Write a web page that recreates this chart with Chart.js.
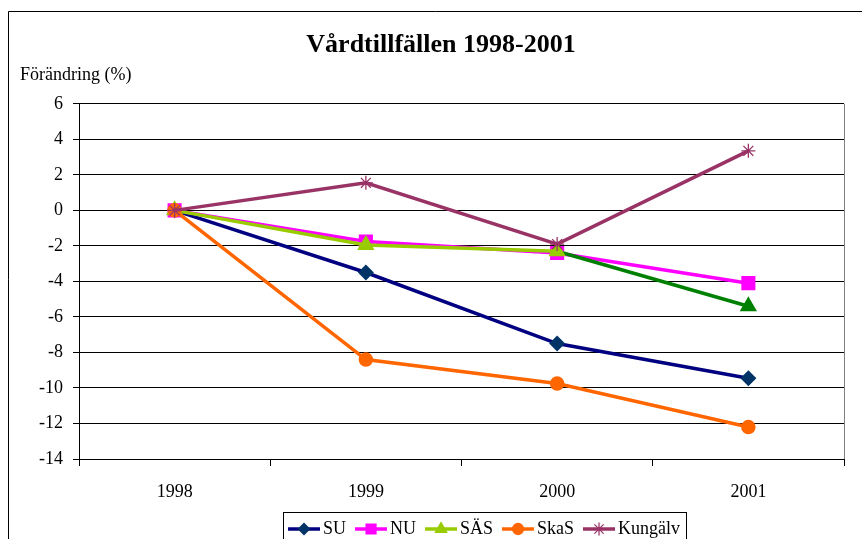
<!DOCTYPE html>
<html>
<head>
<meta charset="utf-8">
<script src="https://cdn.jsdelivr.net/npm/chart.js@4.4.1/dist/chart.umd.min.js"></script>
<style>
  html, body { margin: 0; padding: 0; background: #fff; overflow: hidden; }
</style>
</head>
<body>
<canvas id="chart" width="862" height="546"></canvas>
<script>
// data
const years = ['1998', '1999', '2000', '2001'];
const su = [0, -3.5, -7.5, -9.45];
const nu = [0, -1.75, -2.4, -4.1];
const sas = [0, -1.95, -2.3, -5.4];
const skas = [0, -8.4, -9.75, -12.2];
const kungalv = [0, 1.55, -1.9, 3.35];
const yMin = -14, yMax = 6, yStep = 2;

const serif = "'Times New Roman', 'Liberation Serif', serif";

// legend sample: line with the marker in the middle
function sample(lineColor, markColor, style, radius) {
    const c = document.createElement('canvas');
    c.width = 32; c.height = 16;
    const g = c.getContext('2d');
    g.strokeStyle = lineColor; g.lineWidth = 3.5;
    g.beginPath(); g.moveTo(0, 8); g.lineTo(32, 8); g.stroke();
    g.fillStyle = markColor; g.strokeStyle = markColor; g.lineWidth = 1.3;
    Chart.helpers.drawPoint(g, {pointStyle: style, radius: radius, rotation: 0, borderWidth: 1.3}, 16, 8);
    return c;
}
const samples = [
    sample('#000080', '#003366', 'rectRot', 5.5),
    sample('#FF00FF', '#FF00FF', 'rect', 7),
    sample('#99CC00', '#99CC00', 'triangle', 6.5),
    sample('#FF6600', '#FF6600', 'circle', 5.5),
    sample('#993366', '#993366', 'star', 6.5)
];

const frames = {
    id: 'frames',
    afterLayout(chart) {
        // move title, axis caption and legend to where the original has them
        chart.titleBlock.left += 19; chart.titleBlock.right += 19;
        const st = chart.boxes.find(b => b.options && b.options.text === 'Förändring (%)');
        if (st) { st.left += 20; st.right += 20; }
        const lg = chart.legend;
        lg.left += 279; lg.right += 279;
        lg.top += 2; lg.bottom += 2;
    },
    afterDraw(chart) {
        const ctx = chart.ctx, a = chart.chartArea;
        ctx.save();
        ctx.strokeStyle = '#000';
        ctx.lineWidth = 1;
        ctx.beginPath();
        ctx.moveTo(8.5, 600); ctx.lineTo(8.5, 11.5); ctx.lineTo(862, 11.5);
        ctx.stroke();
        ctx.strokeStyle = '#808080';
        ctx.beginPath();
        ctx.moveTo(Math.round(a.right) + 0.5, a.top); ctx.lineTo(Math.round(a.right) + 0.5, a.bottom);
        ctx.stroke();
        const hb = chart.legend.legendHitBoxes;
        if (hb && hb.length) {
            const l = hb[0].left - 11, r = hb[hb.length - 1].left + hb[hb.length - 1].width + 6;
            const t = hb[0].top - 8;
            ctx.strokeStyle = '#000';
            ctx.strokeRect(Math.round(l) + 0.5, Math.round(t) + 0.5, Math.round(r - l), 60);
        }
        ctx.restore();
    }
};

const chart = new Chart(document.getElementById('chart'), {
    type: 'line',
    data: {
        labels: years,
        datasets: [
            {label: 'SU', data: su, borderColor: '#000080', borderWidth: 3.5,
             pointStyle: 'rectRot', pointRadius: 5.5, pointBackgroundColor: '#003366', pointBorderColor: '#003366', order: 5},
            {label: 'NU', data: nu, borderColor: '#FF00FF', borderWidth: 3.5,
             pointStyle: 'rect', pointRadius: 7.5, pointBackgroundColor: '#FF00FF', pointBorderColor: '#FF00FF', order: 4},
            {label: 'SÄS', data: sas, borderColor: '#99CC00', borderWidth: 3.5,
             segment: {borderColor: c => c.p1DataIndex === 3 ? '#008000' : undefined},
             pointStyle: 'triangle', pointRadius: 6.5,
             pointBackgroundColor: ['#99CC00', '#99CC00', '#99CC00', '#008000'],
             pointBorderColor: ['#99CC00', '#99CC00', '#99CC00', '#008000'], order: 3},
            {label: 'SkaS', data: skas, borderColor: '#FF6600', borderWidth: 3.5,
             pointStyle: 'circle', pointRadius: 5.5, pointBackgroundColor: '#FF6600', pointBorderColor: '#FF6600', order: 2},
            {label: 'Kungälv', data: kungalv, borderColor: '#993366', borderWidth: 3.5,
             pointStyle: 'star', pointRadius: 7, pointBackgroundColor: '#993366', pointBorderColor: '#993366',
             pointBorderWidth: 1.3, order: 1}
        ]
    },
    options: {
        responsive: false,
        animation: false,
        layout: {padding: {left: 0, right: 18, top: 0, bottom: 0}},
        elements: {line: {tension: 0}},
        plugins: {
            title: {
                display: true,
                text: 'Vårdtillfällen 1998-2001',
                color: '#000',
                font: {family: serif, size: 26, weight: 'bold'},
                padding: {top: 30, bottom: 0}
            },
            subtitle: {
                display: true,
                text: 'Förändring (%)',
                align: 'start',
                color: '#000',
                font: {family: serif, size: 18},
                padding: {top: 3, bottom: 18}
            },
            legend: {
                position: 'bottom',
                align: 'start',
                labels: {
                    color: '#000',
                    font: {family: serif, size: 18},
                    padding: 15,
                    usePointStyle: true,
                    pointStyleWidth: 20,
                    sort: (a, b) => a.datasetIndex - b.datasetIndex,
                    generateLabels(chart) {
                        const items = Chart.defaults.plugins.legend.labels.generateLabels(chart);
                        items.forEach(it => { it.pointStyle = samples[it.datasetIndex]; });
                        return items;
                    }
                }
            },
            tooltip: {enabled: false}
        },
        scales: {
            x: {
                offset: true,
                grid: {display: true, drawOnChartArea: false, drawTicks: true, tickLength: 7, offset: true, color: '#000'},
                border: {color: '#000', width: 1},
                ticks: {color: '#000', font: {family: serif, size: 18}, padding: 15},
                afterFit(s) { s.height = 44; }
            },
            y: {
                min: yMin,
                max: yMax,
                ticks: {stepSize: yStep, color: '#000', font: {family: serif, size: 18}, padding: 10},
                grid: {color: '#000', lineWidth: 1, tickLength: 6},
                border: {color: '#000', width: 1},
                afterFit(s) { s.width = 79; }
            }
        }
    },
    plugins: [frames]
});
</script>
</body>
</html>
